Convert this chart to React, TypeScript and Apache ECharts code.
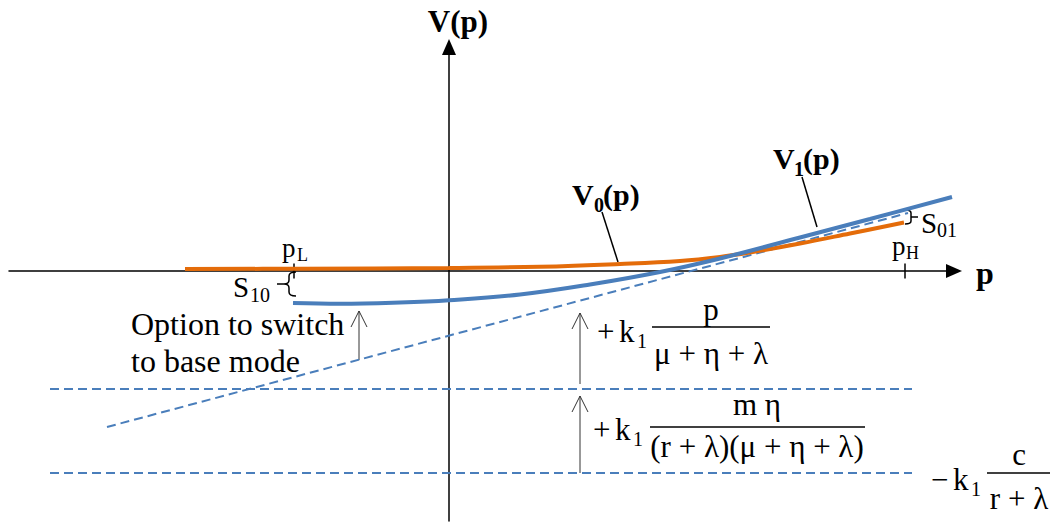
import { useEffect, useRef } from "react";
import * as echarts from "echarts";

const FONT = "Liberation Serif";
const ORANGE = "#E46C0A";
const BLUE = "#4A7EBB";

// Axis ranges in model units (p horizontally, V vertically)
const P_RANGE = [-8.8, 10.1];
const V_RANGE = [-5.0, 4.48];

// Value of the firm in base mode, V0(p)
const V0_P = [-5.28, -2.98, 0, 1.82, 3.42, 4.62, 5.42, 6.02, 7.02, 8.02, 9.1];
const V0_V = [0.04, 0.045, 0.06, 0.085, 0.14, 0.2, 0.28, 0.37, 0.55, 0.75, 0.97];

// Value of the firm in peak mode, V1(p)
const V1_P = [-3.12, -2.18, -0.98, 0, 1.42, 2.82, 4.22, 5.42, 7.02, 8.42, 10.06];
const V1_V = [-0.64, -0.655, -0.63, -0.585, -0.47, -0.27, -0.02, 0.25, 0.67, 1.04, 1.48];

// Linear asymptote of V1 without switching
const ASYMPTOTE_P = [-6.84, 9.18];
const ASYMPTOTE_V = [-3.12, 1.16];

// Constant terms: -k1 c/(r+λ) and the level after adding k1 mη/((r+λ)(μ+η+λ))
const FLOOR_P = [-7.98, 9.26];
const FLOOR_LEVELS = [-2.36, -4.04];

// Switching thresholds p_L and p_H
const THRESHOLDS = [-3.1, 9.12];
const TICK_HALF = 0.15;

const zip = (xs: number[], ys: number[]) => xs.map((x, i) => [x, ys[i]]);

function txt(
  text: string,
  x: number,
  baseline: number,
  size: number,
  bold = false,
  align: "left" | "center" | "right" = "left"
) {
  const style: any = {
    text,
    fontSize: size,
    fontFamily: FONT,
    fill: "#000",
    align,
    verticalAlign: "middle",
  };
  if (bold) style.fontWeight = "bold";
  return { type: "text", x, y: baseline - 0.34 * size, silent: true, style };
}

function seg(x1: number, y1: number, x2: number, y2: number, width = 1.5, color = "#000") {
  return {
    type: "line",
    silent: true,
    shape: { x1, y1, x2, y2 },
    style: { stroke: color, lineWidth: width },
  };
}

function upArrow(x: number, yFrom: number, yTip: number) {
  return [
    seg(x, yFrom, x, yTip, 1, "#333"),
    {
      type: "polyline",
      silent: true,
      shape: { points: [[x - 8, yTip + 16], [x, yTip], [x + 8, yTip + 16]] },
      style: { stroke: "#333", lineWidth: 1, fill: "none" },
    },
  ];
}

echarts.graphic.registerShape(
  "braceLeft",
  echarts.graphic.extendPath(
    "M296 272 Q289 272 289 276 L289 280 Q289 284 284 284 Q289 284 289 288 L289 292 Q289 296 296 296 M284 284 L277 284",
    {}
  )
);
echarts.graphic.registerShape(
  "braceRight",
  echarts.graphic.extendPath(
    "M905 210 Q911 210 911 213 L911 221 Q911 224 905 224 M911 217 L918 217",
    {}
  )
);

export default function App() {
  const ref = useRef<HTMLDivElement>(null);

  useEffect(() => {
    if (!ref.current) return;
    const chart = echarts.init(ref.current, null, { renderer: "svg" });

    const lineSeries = (data: number[][], color: string, width: number, extra: any = {}) => ({
      type: "line",
      data,
      symbol: "none",
      silent: true,
      lineStyle: { color, width, ...(extra.lineStyle || {}) },
      ...extra.rest,
    });

    const series: any[] = [
      ...FLOOR_LEVELS.map((lv) =>
        lineSeries(zip(FLOOR_P, [lv, lv]), BLUE, 2, { lineStyle: { type: [9, 5] } })
      ),
      lineSeries(zip(ASYMPTOTE_P, ASYMPTOTE_V), BLUE, 2, { lineStyle: { type: [9, 5] } }),
      ...THRESHOLDS.map((p) => lineSeries([[p, TICK_HALF], [p, -TICK_HALF]], "#000", 1.5)),
      lineSeries(zip(V0_P, V0_V), ORANGE, 4, { rest: { smooth: 0.4, z: 3 } }),
      lineSeries(zip(V1_P, V1_V), BLUE, 4, { rest: { smooth: 0.4, z: 4 } }),
    ];

    const graphic: any[] = [
      // axis titles
      txt("V(p)", 458, 32, 31, true, "center"),
      txt("p", 985, 284, 32, true, "center"),
      // curve labels with leaders
      txt("V", 572, 205, 30, true),
      txt("0", 594, 212, 20, true),
      txt("(p)", 603, 205, 30, true),
      seg(602, 212, 618, 262),
      txt("V", 773, 169, 30, true),
      txt("1", 794, 176, 20, true),
      txt("(p)", 803, 169, 30, true),
      seg(802, 177, 817, 227),
      // thresholds
      txt("p", 282, 257, 27),
      txt("L", 297, 261, 18),
      txt("p", 892, 255, 27),
      txt("H", 906, 259, 18),
      // switching options
      { type: "braceLeft", silent: true, style: { stroke: "#000", lineWidth: 1.5, fill: "none" } },
      txt("S", 233, 297, 29),
      txt("10", 250, 302, 20),
      { type: "braceRight", silent: true, style: { stroke: "#000", lineWidth: 1.5, fill: "none" } },
      txt("S", 921, 233, 29),
      txt("01", 937, 237, 20),
      // explanation
      txt("Option to switch", 131, 335, 32),
      txt("to base mode", 131, 372, 32),
      ...upArrow(359, 360, 311),
      // first increment
      ...upArrow(580, 384, 313),
      txt("+", 597, 342, 31),
      txt("k", 619, 342, 31),
      txt("1", 637, 348, 20),
      txt("p", 711, 320, 31, false, "center"),
      seg(652, 327, 770, 327, 1.5),
      txt("μ + η + λ", 711, 364, 31, false, "center"),
      // second increment
      ...upArrow(580, 473, 396),
      txt("+", 593, 440, 31),
      txt("k", 615, 440, 31),
      txt("1", 633, 446, 20),
      txt("m η", 757, 415, 31, false, "center"),
      seg(650, 427, 865, 427, 1.5),
      txt("(r + λ)(μ + η + λ)", 757, 457, 31, false, "center"),
      // constant level
      txt("−", 931, 490, 31),
      txt("k", 953, 490, 31),
      txt("1", 971, 496, 20),
      txt("c", 1019, 465, 31, false, "center"),
      seg(987, 473, 1050, 473, 1.5),
      txt("r + λ", 1019, 509, 31, false, "center"),
    ];

    const axisCommon = {
      type: "value",
      axisTick: { show: false },
      axisLabel: { show: false },
      splitLine: { show: false },
      axisLine: {
        show: true,
        onZero: true,
        symbol: ["none", "triangle"],
        symbolSize: [14, 16],
        lineStyle: { color: "#000", width: 1.5 },
      },
    };

    chart.setOption({
      animation: false,
      backgroundColor: "#fff",
      grid: { left: 9, right: 101, top: 47, bottom: 4, containLabel: false, outerBoundsMode: "none" },
      xAxis: { ...axisCommon, min: P_RANGE[0], max: P_RANGE[1] },
      yAxis: { ...axisCommon, min: V_RANGE[0], max: V_RANGE[1] },
      series,
      graphic,
    });

    return () => chart.dispose();
  }, []);

  return (
    <div
      ref={ref}
      style={{ position: "absolute", left: 0, top: 0, width: 1055, height: 525, background: "#fff" }}
    />
  );
}
